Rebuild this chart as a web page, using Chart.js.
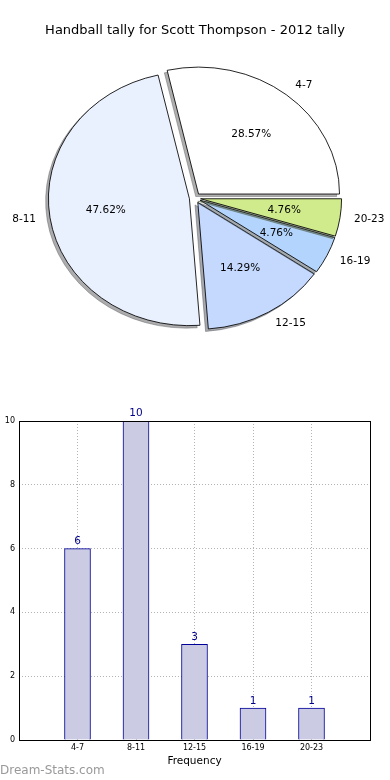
<!DOCTYPE html>
<html><head><meta charset="utf-8">
<script src="https://cdn.jsdelivr.net/npm/chart.js@4.4.1/dist/chart.umd.min.js"></script>
<style>
html,body{margin:0;padding:0;background:#fff;width:390px;height:780px;overflow:hidden;font-family:'DejaVu Sans',sans-serif;}
#pie{position:absolute;left:0;top:0;}
#title{position:absolute;left:0;top:21px;width:390px;text-align:center;font-size:13px;color:#000;line-height:18px;}
#bar{position:absolute;left:0;top:400px;}
#wm{position:absolute;left:0;top:762px;font-size:12px;color:#999;line-height:16px;}
</style></head><body>
<canvas id="pie" width="390" height="396"></canvas>
<div id="title">Handball tally for Scott Thompson - 2012 tally</div>
<canvas id="bar" width="390" height="380"></canvas>
<div id="wm">Dream-Stats.com</div>
<script>
// ---- data ----
const categories = ['4-7', '8-11', '12-15', '16-19', '20-23'];
const counts = [6, 10, 3, 1, 1];
const yTickStep = 2;
const yMax = 10;
const xAxisTitle = 'Frequency';

// ---- style ----
const sliceColors = ['#ffffff', '#eaf1fe', '#c5d9fe', '#b3d5fd', '#d0eb8b'];
const FONT = "'DejaVu Sans', sans-serif";
const EXPLODE = 0.04;      // fraction of radius
const Y_SQUASH = 0.9;      // pie drawn slightly elliptical
const SHADOW_DX = -2.8, SHADOW_DY = 2.5;
const SHIFT = 10000;

function shadowFor(hex) {
  const r = parseInt(hex.slice(1, 3), 16), g = parseInt(hex.slice(3, 5), 16), b = parseInt(hex.slice(5, 7), 16);
  return 'rgba(' + Math.round(r * 0.3) + ',' + Math.round(g * 0.3) + ',' + Math.round(b * 0.3) + ',0.45)';
}

const total = counts.reduce((s, v) => s + v, 0);
const n = categories.length;

// Chart.js draws clockwise; reverse to reproduce the counter-clockwise order
const pieLabels = categories.slice().reverse();
const pieValues = counts.slice().reverse();
const pieColors = sliceColors.slice().reverse();

const pieDraw = {
  id: 'pieDraw',
  beforeDatasetsDraw(chart) {
    const ctx = chart.ctx;
    const arcs = chart.getDatasetMeta(0).data;
    const order = arcs.map((a, i) => i).reverse();
    const place = (a) => {
      const mid = (a.startAngle + a.endAngle) / 2;
      const d = EXPLODE * a.outerRadius;
      ctx.translate(a.x, a.y);
      ctx.scale(1, Y_SQUASH);
      ctx.translate(-a.x, -a.y);
      ctx.translate(Math.cos(mid) * d, Math.sin(mid) * d);
    };
    order.forEach(i => {
      const a = arcs[i];
      // shadow pass
      ctx.save();
      ctx.translate(SHIFT, 0);
      place(a);
      ctx.shadowColor = shadowFor(pieColors[i]);
      ctx.shadowOffsetX = -SHIFT + SHADOW_DX;
      ctx.shadowOffsetY = SHADOW_DY;
      ctx.shadowBlur = 0;
      a.draw(ctx);
      ctx.restore();
      // wedge
      ctx.save();
      place(a);
      a.draw(ctx);
      ctx.restore();
    });
    // labels
    ctx.save();
    ctx.fillStyle = '#000';
    ctx.font = '10.5px ' + FONT;
    ctx.textBaseline = 'middle';
    arcs.forEach((a, i) => {
      const mid = (a.startAngle + a.endAngle) / 2;
      const R = a.outerRadius;
      const c = Math.cos(mid), s = Math.sin(mid);
      const lr = R * (1.1 + EXPLODE);
      ctx.textAlign = c > 0 ? 'left' : 'right';
      ctx.fillText(pieLabels[i], a.x + c * lr, a.y + s * lr * Y_SQUASH);
      const pr = R * (0.6 + EXPLODE);
      ctx.textAlign = 'center';
      ctx.fillText((pieValues[i] / total * 100).toFixed(2) + '%', a.x + c * pr, a.y + s * pr * Y_SQUASH);
    });
    ctx.restore();
    return false;
  }
};

new Chart(document.getElementById('pie'), {
  type: 'pie',
  data: {
    labels: pieLabels,
    datasets: [{
      data: pieValues,
      backgroundColor: pieColors,
      borderColor: '#000',
      borderWidth: 0.9,
      borderJoinStyle: 'miter'
    }]
  },
  options: {
    responsive: false,
    animation: false,
    rotation: 90,
    radius: 141,
    layout: { padding: 0 },
    plugins: { legend: { display: false }, tooltip: { enabled: false } }
  },
  plugins: [pieDraw]
});

// ---- bar chart ----
const barExtras = {
  id: 'barExtras',
  afterDatasetsDraw(chart) {
    const ctx = chart.ctx;
    ctx.save();
    ctx.fillStyle = '#00008b';
    ctx.font = '10.5px ' + FONT;
    ctx.textAlign = 'center';
    ctx.textBaseline = 'bottom';
    chart.getDatasetMeta(0).data.forEach((b, i) => {
      ctx.fillText(String(counts[i]), b.x, b.y - 2);
    });
    ctx.restore();
  },
  afterDraw(chart) {
    const { left, top, right, bottom } = chart.chartArea;
    const ctx = chart.ctx;
    ctx.save();
    ctx.strokeStyle = '#000';
    ctx.lineWidth = 1;
    ctx.strokeRect(Math.round(left) + 0.5, Math.round(top) + 0.5, Math.round(right) - Math.round(left), Math.round(bottom) - Math.round(top));
    ctx.restore();
  }
};

const gridOpts = { color: '#b4b4b4', lineWidth: 1, drawTicks: false, offset: false };

new Chart(document.getElementById('bar'), {
  type: 'bar',
  data: {
    datasets: [{
      data: categories.map((c, i) => ({ x: i + 1, y: counts[i] })),
      backgroundColor: '#cbcce3',
      borderColor: '#000099',
      borderWidth: 1,
      barThickness: 26
    }]
  },
  options: {
    responsive: false,
    animation: false,
    layout: { padding: { top: 21, right: 20, left: 0, bottom: 0 } },
    plugins: { legend: { display: false }, tooltip: { enabled: false } },
    scales: {
      x: {
        type: 'linear', min: 0, max: n + 1, z: 1, offset: false,
        grid: gridOpts,
        border: { display: false, dash: [1, 2] },
        ticks: {
          stepSize: 1, autoSkip: false, maxRotation: 0, padding: 3,
          color: '#000', font: { family: FONT, size: 8 },
          callback: v => categories[v - 1] || ''
        },
        title: { display: true, text: xAxisTitle, color: '#000', font: { family: FONT, size: 10.5 }, padding: { top: 0, bottom: 12.5 } },
        afterFit: s => { s.height = 40; }
      },
      y: {
        min: 0, max: yMax, z: 1,
        grid: gridOpts,
        border: { display: false, dash: [1, 2] },
        ticks: { stepSize: yTickStep, padding: 4, color: '#000', font: { family: FONT, size: 8 } },
        afterFit: s => { s.width = 19; }
      }
    }
  },
  plugins: [barExtras]
});
</script>
</body></html>
